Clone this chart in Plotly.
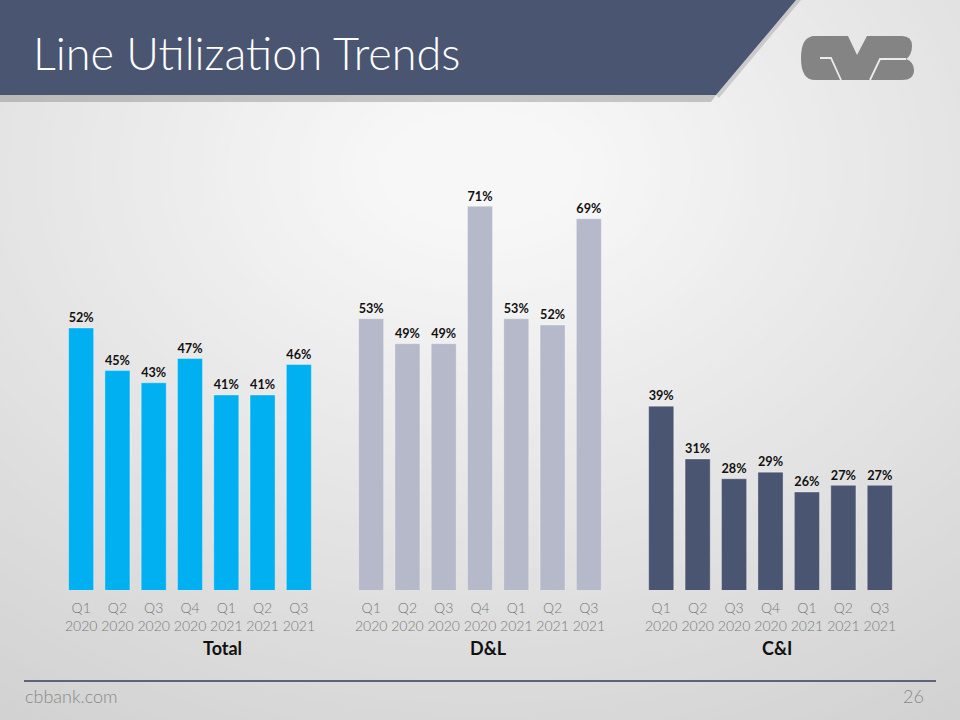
import plotly.graph_objects as go

quarters = ["Q1<br>2020", "Q2<br>2020", "Q3<br>2020", "Q4<br>2020", "Q1<br>2021", "Q2<br>2021", "Q3<br>2021"]
total_vals = [52, 45, 43, 47, 41, 41, 46]
dl_vals = [53, 49, 49, 71, 53, 52, 69]
ci_vals = [39, 31, 28, 29, 26, 27, 27]
panel_names = ["Total", "D&L", "C&I"]

W, H = 960, 720
def px(x): return x / W
def py(y): return 1 - y / H

fig = go.Figure()

FONT = "Lato"
panels = [
    (total_vals, "#00b0f0", (63, 317), (9.0, 81.2), 222),
    (dl_vals, "#b5b9c9", (353, 607), (9.6, 80.0), 488),
    (ci_vals, "#4a5571", (643, 898), (11.15, 77.8), 777),
]
for i, (vals, col, (x0, x1), yr, lx) in enumerate(panels):
    sfx = "" if i == 0 else str(i + 1)
    fig.add_trace(go.Bar(
        x=quarters, y=vals, xaxis="x" + sfx, yaxis="y" + sfx,
        marker=dict(color=col, line=dict(color="rgba(255,255,255,0.35)", width=1)),
        text=[f"{v}%" for v in vals], textposition="outside",
        textfont=dict(family=FONT, size=14, color="#111111", weight="bold"),
        cliponaxis=False, showlegend=False, hoverinfo="skip",
    ))
    fig.layout["xaxis" + sfx] = dict(
        domain=[px(x0), px(x1)], anchor="y" + sfx, showgrid=False, showline=False,
        zeroline=False, ticks="", ticklabelstandoff=8,
        tickfont=dict(family=FONT, size=14, color="#7a7a7a", weight=300),
        fixedrange=True,
    )
    fig.layout["yaxis" + sfx] = dict(
        domain=[py(590), py(150)], anchor="x" + sfx, range=list(yr), visible=False,
        fixedrange=True,
    )
    fig.add_annotation(x=px(lx), y=py(648), xref="paper", yref="paper",
                       xanchor="center", yanchor="middle",
                       text=f"<b>{panel_names[i]}</b>", showarrow=False,
                       font=dict(family=FONT, size=18, color="#111111"))

shapes = []
# background radial-ish gradient
N = 70
for k in range(N):
    t = k / (N - 1)
    c = int(round(200 + (247 - 200) * t))
    rx = 950 * (1 - t) + 100
    ry = 760 * (1 - t) + 60
    cx, cy = 480, 170
    shapes.append(dict(type="circle", xref="paper", yref="paper", layer="below",
                       x0=px(cx - rx), x1=px(cx + rx), y0=py(cy + ry), y1=py(cy - ry),
                       fillcolor=f"rgb({c},{c},{c})", line=dict(width=0)))
# header shadow
shapes.append(dict(type="path", xref="paper", yref="paper", layer="below",
                   path=f"M 0 {py(95)} L {px(716)} {py(95)} L {px(711)} {py(102)} L 0 {py(102)} Z",
                   fillcolor="rgba(110,110,110,0.35)", line=dict(width=0)))
shapes.append(dict(type="path", xref="paper", yref="paper", layer="below",
                   path=f"M {px(796)} {py(0)} L {px(801)} {py(0)} L {px(719)} {py(98)} L {px(716)} {py(95)} Z",
                   fillcolor="rgba(140,140,140,0.35)", line=dict(width=0)))
# header banner
shapes.append(dict(type="path", xref="paper", yref="paper", layer="below",
                   path=f"M 0 {py(0)} L {px(796)} {py(0)} L {px(716)} {py(95)} L 0 {py(95)} Z",
                   fillcolor="#4a5571", line=dict(width=0)))

# logo (approximate CVB mark)
g = "#848484"
bgc = "#ececec"
def pt(a, b): return f"{px(a)} {py(b)}"
logo = (f"M {pt(815,36)} L {pt(848,36)} L {pt(857,55)} L {pt(867,36)} L {pt(902,36)} "
        f"Q {pt(912,36)} {pt(912,46)} Q {pt(912,55)} {pt(906,59)} "
        f"Q {pt(914,62)} {pt(914,70)} Q {pt(914,80)} {pt(902,80)} "
        f"L {pt(815,80)} Q {pt(801,80)} {pt(801,58)} Q {pt(801,36)} {pt(815,36)} Z")
shapes.append(dict(type="path", xref="paper", yref="paper", layer="above",
                   path=logo, fillcolor=g, line=dict(width=0)))
shapes.append(dict(type="path", xref="paper", yref="paper", layer="above",
                   path=f"M {pt(820,58)} L {pt(831,58)} L {pt(841,80)}",
                   line=dict(color=bgc, width=1.8)))
shapes.append(dict(type="path", xref="paper", yref="paper", layer="above",
                   path=f"M {pt(906,59)} L {pt(880,59)} L {pt(870,80)}",
                   line=dict(color=bgc, width=1.8)))
# footer line
shapes.append(dict(type="line", xref="paper", yref="paper", layer="below",
                   x0=px(24), x1=px(936), y0=py(681), y1=py(681),
                   line=dict(color="#5b6479", width=2)))

fig.update_layout(shapes=shapes)

fig.add_annotation(x=px(31), y=py(53), xref="paper", yref="paper", xanchor="left",
                   yanchor="middle", text="Line Utilization Trends", showarrow=False,
                   font=dict(family=FONT, size=45, color="white", weight=300))
fig.add_annotation(x=px(23), y=py(696), xref="paper", yref="paper", xanchor="left",
                   yanchor="middle", text="cbbank.com", showarrow=False,
                   font=dict(family=FONT, size=18, color="#8a8a8a", weight=300))
fig.add_annotation(x=px(926), y=py(696), xref="paper", yref="paper", xanchor="right",
                   yanchor="middle", text="26", showarrow=False,
                   font=dict(family=FONT, size=18, color="#8a8a8a", weight=300))

fig.update_layout(
    width=W, height=H, margin=dict(l=0, r=0, t=0, b=0),
    paper_bgcolor="#c8c8c8", plot_bgcolor="rgba(0,0,0,0)",
    bargap=0.31, font=dict(family=FONT),
)

fig.write_html("out.html")
